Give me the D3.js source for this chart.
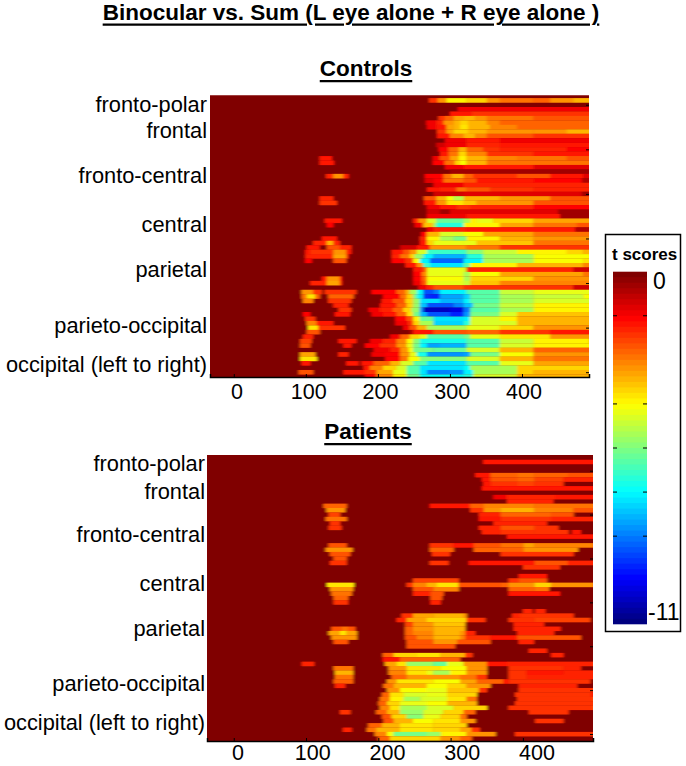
<!doctype html>
<html lang="en">

<head>
    <meta charset="UTF-8" />
    <script src="https://d3js.org/d3.v7.min.js"></script>
    <title>Binocular vs. Sum</title>
    <style>
        body { margin: 0; background: white; }
        text { font-family: "Liberation Sans", Arial, sans-serif; fill: black; }
    </style>
</head>

<body>
    <div id="chart"></div>
    <script>
        // every row: flat list of time (ms), t score. a score holds until the next time in the row
        const controlsRows = [
            [],
            [271,-2,283,-3,295,-4.1,323,-3.7,351,-3,369,-2.6,416,-2.5,439,-3,471,-3.4],
            [],
            [311,-1.3],
            [300,-1.5,330,-1.9],
            [284,-1.9,293,-2.5,305,-3.1,319,-3.4,335,-3,351,-2.6,416,-2.3],
            [267,-1.3,281,-1.8,291,-3,305,-3.3,314,-3.7,325,-3.3,351,-2.8,369,-2.5],
            [268,-1.3,281,-1.6,295,-3.1,305,-3.4,314,-3.8,325,-3.3,356,-2.8,393,-2.5],
            [282,-2,295,-3.1,305,-3.6,325,-3.4,351,-3,416,-3,462,-3.4],
            [282,-1.6,300,-2.8,319,-3.4,335,-2.8,351,-2.3,416,-2],
            [293,-1.2,323,-1.6,369,-1.3],
            [281,-0.8,293,-1.3,323,-1.7,369,-1.6],
            [284,-1.4,298,-2.4,312,-3.4,323,-2.5,346,-1.9,369,-1.7,462,-1.4],
            [286,-1.5,298,-2.6,312,-3.6,323,-2.8,351,-2,416,-1.6],
            [119,-1.5,136,0,276,-1.3,286,-2.2,300,-3.2,312,-4,323,-3.4,351,-2.8,393,-2.6,462,-2.2],
            [119,-1.6,139,0,276,-1.4,293,-2.6,307,-3.6,314,-4.2,323,-3.4,351,-2.6],
            [293,-1.2,319,-1.5,416,-1],
            [300,-0.4],
            [128,-1.7,138,-2.9,152,-1.7,159,0,265,-1.4,291,-2.6,302,-3.3,319,-2.4,332,-1.9,393,-2.2,439,-1.6,485,-1],
            [265,-1,277,-1.4,291,-2.6,319,-2.2,337,-1.6,416,-1.4,483,-0.5],
            [277,-1.3,319,-1.7],
            [268,-1.5,286,-1.7,309,-2.6,323,-2.2,356,-1.9,416,-1.7],
            [277,-0.9,319,-1,483,-0.3],
            [119,-1.8,138,0,264,-2.2,281,-3.4,295,-4.2,305,-4.9,319,-3.3,369,-2.9,439,-2.2],
            [119,-2,143,0,264,-1.5,281,-3,295,-3.8,319,-3.5,337,-2.9,416,-2.2],
            [268,-1.2,286,-1.5,309,-1.9,328,-1.7,416,-1.4],
            [268,-0.9,286,-0.3,300,-1,323,-1.1,450,-0.3],
            [268,-1.3,323,-1.5,453,-0.3],
            [126,-1.5,150,0,249,-1.7,256,-3,268,-4.5,281,-5.8,319,-5,328,-4,337,-4.4,360,-3.6,416,-3.2],
            [129,-1.4,138,0,251,-1.2,263,-3.5,277,-5,281,-6.4,319,-4,369,-3.2,416,-2.7,476,-2.2],
            [268,-1.3,277,-1.8,323,-1.6,474,-0.5],
            [260,-1.4,268,-3.4,286,-4.5,319,-4.2,346,-3.2,416,-2.7],
            [122,-1.5,143,0,258,-1.8,268,-4,286,-5,305,-5.6,323,-4,369,-3.3,416,-3],
            [110,-1.7,129,-3.4,138,-1.7,147,0,258,-1.6,268,-3.6,277,-4.4,319,-4.3,337,-3.5,416,-2.7],
            [101,-1.5,119,0,129,-2.2,147,-1.7,163,0,231,-0.9,254,-1.6,272,-3,323,-2.6,369,-2],
            [99,-1.5,106,-2,138,-3,156,-1.5,163,0,219,-1.5,235,-2.2,244,-3,254,-4.6,268,-6.3,323,-5.4,346,-4.7,393,-4.1,462,-3.6,485,-3.4],
            [99,-1.8,138,-3.2,156,-1.8,159,0,219,-1.8,231,-2.6,244,-3.6,251,-5.3,263,-6.9,277,-7.6,323,-6.4,346,-5,416,-4.2,493,-4],
            [99,-1.4,108,0,138,-2.3,156,0,219,-1.4,238,-2,249,-4.2,258,-7,272,-8.5,319,-7,346,-5,416,-4.2,485,-3.8],
            [238,-1.5,254,-3,263,-6.3,272,-7.2,319,-6,328,-4,393,-3.3,485,-2.8],
            [249,-1.5,263,-2.4,268,-4.4,319,-4.5,323,-1.7,471,-0.9],
            [249,-1.4,261,-2.8,268,-4.4,319,-5,328,-4.2,369,-3.2,485,-2.6],
            [122,-1.6,129,-3,147,-1.6,150,0,249,-1.4,261,-2.5,268,-4.2,319,-5,328,-3.6,416,-2.9],
            [106,-1.8,129,-3.2,147,-1.8,150,0,249,-1.2,261,-2.3,268,-4.4,319,-4.8,328,-3.5,369,-2.8],
            [256,-1.3,268,-1.8,277,-2.2,319,-1.9,471,-0.9],
            [94,-3,110,-2,122,0,126,-1.9,170,0,191,-1.4,226,-2.4,238,-3.4,244,-5,254,-6.8,263,-8.8,277,-8.2,286,-7,323,-6,369,-4.8,416,-4.4],
            [94,-2.6,101,-3.8,113,-2.4,119,0,131,-2.5,166,0,207,-1.4,231,-2.6,240,-3.6,249,-5.5,254,-7,263,-9,272,-9.2,286,-7.8,319,-7.4,328,-6,369,-5,416,-4.8,485,-4.2],
            [96,-2.8,110,0,131,-2,163,0,205,-1.5,221,-2.2,238,-3.6,249,-5.3,258,-7.2,286,-7.6,319,-7,328,-6,369,-5,416,-4.5],
            [138,-1.8,159,0,203,-1.5,226,-2.4,240,-3.6,249,-5.3,258,-7.5,268,-8.8,305,-8.2,319,-7.5,332,-5.6,369,-4.8,416,-4.1],
            [145,-1.9,163,0,187,-1.3,203,-1.8,221,-2.5,235,-3.6,247,-5.3,258,-8,263,-10.3,300,-10,319,-8.3,328,-6,369,-5,416,-4],
            [96,-1.4,106,0,140,-1.5,161,0,191,-1.2,207,-1.6,226,-2.4,240,-3.8,249,-5.5,258,-7.6,268,-8.8,300,-9.3,319,-8,328,-5.6,369,-4.5,393,-3.5],
            [99,-2,113,0,224,-1.4,240,-2.2,249,-4,258,-5.8,277,-7.2,319,-7,328,-4.6,369,-4,393,-3.4],
            [101,-2.8,115,-1.6,138,0,224,-1.2,242,-2,249,-3.6,258,-5,277,-7.4,319,-6.5,328,-4.5,393,-3.3],
            [103,-3.8,117,-2,154,0,235,-1.3,244,-2.2,254,-3.4,268,-5,323,-4.4,369,-3.6,416,-3],
            [101,-2.2,119,0,244,-0.6,249,-1.6,277,-2.2,323,-2.4,369,-1.9,439,-1.5],
            [96,-1.7,110,0,217,-1.3,231,-2.5,244,-3.7,258,-4.4,268,-6,319,-5.6,328,-4.3,369,-3.8,439,-3],
            [92,-2.1,108,0,145,-1.5,170,0,189,-1.3,207,-1.7,226,-2.8,240,-4.2,249,-5.4,258,-6.7,323,-6,369,-4.8,416,-4,493,-3.4],
            [92,-2.3,106,0,152,-1.6,163,0,182,-1.4,203,-2,226,-3,240,-4.4,249,-5.6,258,-7,268,-7.9,286,-7.7,323,-6,369,-4.6,416,-4],
            [194,-1.3,217,-1.8,231,-3,242,-4.2,249,-5.5,277,-5.8,323,-4.6,369,-3.4,416,-2.4],
            [92,-3.2,113,0,145,-1.7,159,0,191,-1.2,210,-1.4,231,-3,244,-4.4,254,-6.6,268,-8,319,-7.8,328,-5.6,369,-4.2,416,-3],
            [92,-3.8,115,0,210,-1.4,231,-2.6,242,-4.2,258,-5.4,323,-4.6,369,-3.4,416,-2.6],
            [94,-1.6,106,0,156,-1.5,173,0,177,-1.5,194,-2.4,217,-3.4,231,-4.5,249,-6,268,-7.2,323,-6,369,-4.4,416,-3.2],
            [180,-1.5,189,-2.8,207,-3.6,226,-4.6,240,-6,258,-7.2,319,-6.8,328,-5,393,-3.6],
            [90,-2.3,110,0,152,-1.5,182,-2,198,-3.2,221,-4.4,240,-6,258,-7.2,268,-8.2,300,-8,319,-7,332,-5,393,-3.6,416,-3.3],
            [182,-1.4,198,-2.8,221,-4,240,-5.6,258,-6.8,319,-6.4,332,-4.6,393,-3.4]
        ]

        const patientsRows = [
            [],
            [345,-1.6],
            [],
            [],
            [334,-1.6,355,-2.4,393,-2.6,416,-2.4,462,-2.3],
            [343,-1.6,355,-2.2,393,-2.4,416,-2.1,456,-1.8],
            [345,-1.6,355,-1.9,393,-2.1,416,-1.9,456,0],
            [343,-1.5,369,-1.6,439,-1.6,497,-1.2],
            [],
            [359,-1.3,378,-1.7,444,-1.5],
            [378,-1.8,442,0],
            [124,-2.4,156,0,271,-1.5,327,-2.4,346,-2.8,416,-2.6],
            [128,-3,154,0,327,-2,346,-3,369,-3.3,416,-2.8,470,-2.2],
            [131,-2.1,147,0,339,-1.7,369,-2.4,439,-2.2,470,0],
            [127,-2.6,156,0,339,-1.6,369,-2,439,-1.8],
            [133,-1.9,147,0,359,-1.7,433,0],
            [131,-1.9,149,0,339,-1.7,369,-2.2,416,-2,449,0],
            [343,-1.7,369,-2,416,-1.9,463,0,468,-1.6,480,0],
            [378,-1.5],
            [],
            [131,-2.2,156,0,271,-1.9,304,-1.5,332,-2.2,369,-2.7,401,-3.1,416,-2.8,497,-2.4],
            [127,-3,164,0,271,-2.4,304,0,332,-2.4,401,-3,476,0],
            [133,-2.2,161,0,274,-2,299,0,369,-1.9,470,0],
            [138,-2.3,156,0],
            [133,-1.9,156,0,271,-1.9,297,0,325,-1.6,416,-2.2,462,-1.7],
            [400,-1.9,451,0],
            [],
            [394,-1.6,433,0],
            [248,-2.1,311,0,380,-2,394,-2.2,433,0],
            [129,-3.9,166,0,239,-1.9,248,-2.8,267,-3.4,281,-3.8,311,-2.3,369,-2.4,380,-3,416,-3.6,439,-3,497,-2.4],
            [133,-3,165,0,248,-2.2,276,-2.8,311,0,380,-2.5,416,-2.6,436,0],
            [135,-2.6,163,0,248,-1.7,272,-2.3,290,0,380,-1.6,451,0],
            [138,-2.4,158,0,272,-2.2,288,0],
            [138,-2,158,0,272,-1.7,286,0],
            [],
            [400,-1.7,413,0,417,-1.7,431,0],
            [232,-2,248,-3.2,276,-3.4,318,-3,322,0,385,-1.8,396,-2,470,0],
            [225,-1.8,239,-3.2,267,-3.6,295,-3.7,322,-1.9,348,0,380,-1.9,416,-2.1,493,0],
            [237,-2.1,248,-3,276,-3.5,320,0,387,-1.7,429,0],
            [135,-2.2,149,-2.6,158,-2.2,168,0,237,-2.4,248,-3,276,-3.3,320,0,387,-1.7,452,0],
            [131,-3.2,147,-3.9,156,-3.2,170,0,237,-2.4,248,-2.8,276,-3.3,313,-2.9,320,-1.8,334,0,392,-1.7,443,0],
            [135,-3,170,0,237,-2.2,253,-2.8,276,-3.3,313,-2.8,320,-1.9,355,-1.6,392,-2.2,480,0],
            [138,-2.2,158,0,239,-2.2,276,-2.9,309,-2.2,355,0,394,-1.7,415,0],
            [239,-2.2,306,0],
            [408,-1.7,433,0],
            [206,-2.4,221,-3.6,253,-3.8,286,-3.3,320,-1.9,330,0,439,-1.7,456,0],
            [206,-1.6,230,-2.4,313,0],
            [94,-1.7,111,0,209,-3.2,225,-3.9,239,-5.2,276,-5.8,295,-4.3,318,-3,350,-1.6,378,-1.8,497,-2],
            [138,-2.6,165,0,214,-3,239,-3.9,286,-4.2,322,-3,350,0,380,-2,456,-1.7,480,0],
            [140,-3.4,165,0,214,-2.8,239,-3.8,267,-4.3,276,-5,299,-4,322,-2.9,350,0,380,-1.9,405,-1.6,456,-1.7],
            [140,-2.6,165,0,218,-2.4,239,-3,313,-2.6,336,-1.9,350,0,380,-1.9,405,-1.8],
            [138,-2.4,165,0,212,-3,225,-3.8,276,-4.2,313,-3.2,336,-2.4,373,-1.6,380,-2,493,0],
            [140,-1.7,154,0,207,-2.6,221,-3.4,267,-4.2,295,-3.6,322,-3,355,0,394,-1.7,475,0],
            [212,-3,230,-4.2,267,-4.4,295,-3.5,339,-2,350,0,394,-2],
            [205,-2.4,216,-3.8,235,-4.5,267,-4.3,295,-3.7,336,0,389,-1.9,495,-1.6],
            [202,-2.6,216,-4,235,-5,258,-4.6,295,-3.8,322,-2.7,336,0,392,-1.9,497,-2.2],
            [200,-2.4,212,-3.6,230,-4.4,267,-4.2,295,-3.3,336,0,389,-1.9],
            [202,-2.8,216,-3.8,230,-5,267,-4.6,304,-3.6,350,0,380,-2,497,-2.2],
            [147,-2,161,0,197,-2.4,212,-3.4,230,-5.2,262,-4.6,290,-3.6,318,-2.4,334,0,408,-1.9,463,0],
            [205,-2.2,218,-3.6,239,-5.4,262,-4.3,286,-3.6,313,-2.6,322,0],
            [207,-2.2,221,-3.4,248,-4.2,276,-3.8,313,-3,334,0,417,-2,456,0],
            [186,-2.4,205,-3.4,230,-3.8,276,-3.6,322,0],
            [151,-1.8,163,0,184,-2.6,197,-3.4,230,-3.9,276,-3.6,313,-3.2,329,-1.9,340,0],
            [195,-2.8,212,-4.2,221,-5.6,267,-5.2,286,-4,322,-3,362,0,389,-2],
            [200,-2.4,216,-3.6,248,-3.6,286,-3,313,-2.4,329,0]
        ]

        const regionLabels = ["fronto-polar", "frontal", "fronto-central", "central", "parietal", "parieto-occipital", "occipital (left to right)"]
        const controlsLabelY = [104, 130, 175, 224, 269, 325, 364]
        const patientsLabelY = [463, 491, 534, 583, 628, 683, 722]
        const timeTicks = [0, 100, 200, 300, 400]
        const rowTicks = [2, 12, 22, 32, 42, 52, 62]
        const barTicks = [-1.375, -4.125, -5.5, -6.875, -8.25]

        const svg = d3.select("#chart").append("svg")
            .attr("width", 686)
            .attr("height", 766)

        // jet colormap with 64 levels, 0 at dark red and -11 at dark blue
        const jet = d3.scaleLinear()
            .domain([0, -1.375, -4.125, -6.875, -9.625, -11])
            .range(["#800000", "#ff0000", "#ffff00", "#00ffff", "#0000ff", "#000080"])
        const color = v => jet(Math.round(v / -11 * 63) / 63 * -11)

        // soften the cells like the resampled image in the reference
        svg.append("defs").append("filter")
            .attr("id", "soft")
            .attr("x", "-5%").attr("y", "-5%").attr("width", "110%").attr("height", "110%")
            .append("feGaussianBlur")
            .attr("stdDeviation", "1.8 0.6")

        function title(label, cx, cy) {
            svg.append("text")
                .attr("x", cx)
                .attr("y", cy)
                .attr("text-anchor", "middle")
                .attr("dominant-baseline", "central")
                .attr("font-size", "22.5px")
                .attr("font-weight", "bold")
                .attr("text-decoration", "underline")
                .text(label)
        }

        function drawPanel(rows, opts) {
            const { left, right, top, bottom, t0, t1, rowTop, rowStep, tickOffset, labelY, labelRight, labelScale, tickLabelY } = opts
            const x = d3.scaleLinear().domain([t0, t1]).range([left, right])
            const y = d3.scaleLinear().domain([0, rows.length - 1]).range([rowTop, rowTop + rowStep * (rows.length - 1)])
            const clipId = `clip-${left}`

            svg.append("clipPath").attr("id", clipId)
                .append("rect")
                .attr("x", left).attr("y", top)
                .attr("width", right - left).attr("height", bottom - top)

            const cells = svg.append("g")
                .attr("clip-path", `url(#${clipId})`)
                .append("g")
                .attr("filter", "url(#soft)")

            cells.append("rect")
                .attr("x", left - 20).attr("y", top - 20)
                .attr("width", right - left + 40).attr("height", bottom - top + 40)
                .attr("fill", color(0))

            rows.forEach((row, i) => {
                const segs = d3.range(0, row.length, 2).map(k => ({
                    start: row[k],
                    end: k + 2 < row.length ? row[k + 2] : t1 + 30,
                    v: row[k + 1]
                }))
                cells.selectAll(null)
                    .data(segs.filter(d => d.v !== 0))
                    .enter()
                    .append("rect")
                    .attr("x", d => x(d.start))
                    .attr("width", d => x(d.end) - x(d.start) + 0.3)
                    .attr("y", y(i) - rowStep / 2)
                    .attr("height", rowStep + 0.2)
                    .attr("fill", d => color(d.v))
            })

            // small inward ticks
            const xAxis = svg.append("g")
                .attr("transform", `translate(0,${bottom})`)
                .call(d3.axisBottom(x).tickValues(timeTicks).tickSize(-3).tickFormat(""))
            xAxis.select(".domain").attr("stroke-width", 1.5)

            svg.append("g")
                .attr("transform", `translate(${right},0)`)
                .call(d3.axisRight(y).tickValues(rowTicks.map(d => d + tickOffset)).tickSize(-3).tickFormat(""))
                .select(".domain").remove()

            svg.append("g").selectAll("text")
                .data(timeTicks)
                .enter()
                .append("text")
                .attr("x", d => labelScale(d))
                .attr("y", tickLabelY)
                .attr("text-anchor", "middle")
                .attr("dominant-baseline", "central")
                .attr("font-size", "21.5px")
                .text(d => d)

            svg.append("g").selectAll("text")
                .data(regionLabels)
                .enter()
                .append("text")
                .attr("x", labelRight)
                .attr("y", (d, i) => labelY[i])
                .attr("text-anchor", "end")
                .attr("dominant-baseline", "central")
                .attr("font-size", "21.8px")
                .text(d => d)
        }

        title("Binocular vs. Sum (L eye alone + R eye alone )", 351, 12)
        title("Controls", 366, 68.5)
        title("Patients", 368, 431.5)

        drawPanel(controlsRows, {
            left: 210, right: 589, top: 95.3, bottom: 377, t0: -33, t1: 493,
            rowTop: 95.85, rowStep: 4.457, tickOffset: 0,
            labelY: controlsLabelY, labelRight: 207, tickLabelY: 392,
            labelScale: d3.scaleLinear().domain([0, 400]).range([237, 524])
        })

        drawPanel(patientsRows, {
            left: 207, right: 593, top: 455, bottom: 741, t0: -37, t1: 497,
            rowTop: 457.5, rowStep: 4.39, tickOffset: 1,
            labelY: patientsLabelY, labelRight: 205, tickLabelY: 753,
            labelScale: d3.scaleLinear().domain([0, 400]).range([238, 537])
        })

        // colorbar
        const barBox = svg.append("g")
        barBox.append("rect")
            .attr("x", 605.5).attr("y", 234.5)
            .attr("width", 75).attr("height", 397)
            .attr("fill", "white")
            .attr("stroke", "black")
            .attr("stroke-width", 1.5)

        const barY = d3.scaleLinear().domain([0, -11]).range([271.7, 624.3])
        const levels = d3.range(64).map(i => i / 63 * -11)
        barBox.selectAll(".level")
            .data(levels)
            .enter()
            .append("rect")
            .attr("class", "level")
            .attr("x", 613)
            .attr("width", 34)
            .attr("y", (d, i) => barY(i / 64 * -11))
            .attr("height", (d, i) => i < 63 ? (barY(-11) - barY(0)) / 64 + 1 : (barY(-11) - barY(0)) / 64)
            .attr("fill", d => color(d))

        barTicks.forEach(t => {
            barBox.append("line").attr("x1", 613).attr("x2", 617).attr("y1", barY(t)).attr("y2", barY(t)).attr("stroke", "black")
            barBox.append("line").attr("x1", 643).attr("x2", 647).attr("y1", barY(t)).attr("y2", barY(t)).attr("stroke", "black")
        })

        barBox.append("text").attr("x", 612).attr("y", 254)
            .attr("dominant-baseline", "central")
            .attr("font-size", "17px").attr("font-weight", "bold")
            .text("t scores")
        barBox.append("text").attr("x", 653).attr("y", 281)
            .attr("dominant-baseline", "central")
            .attr("font-size", "23px")
            .text("0")
        barBox.append("text").attr("x", 648).attr("y", 612)
            .attr("dominant-baseline", "central")
            .attr("font-size", "23px")
            .text("-11")
    </script>
</body>

</html>
